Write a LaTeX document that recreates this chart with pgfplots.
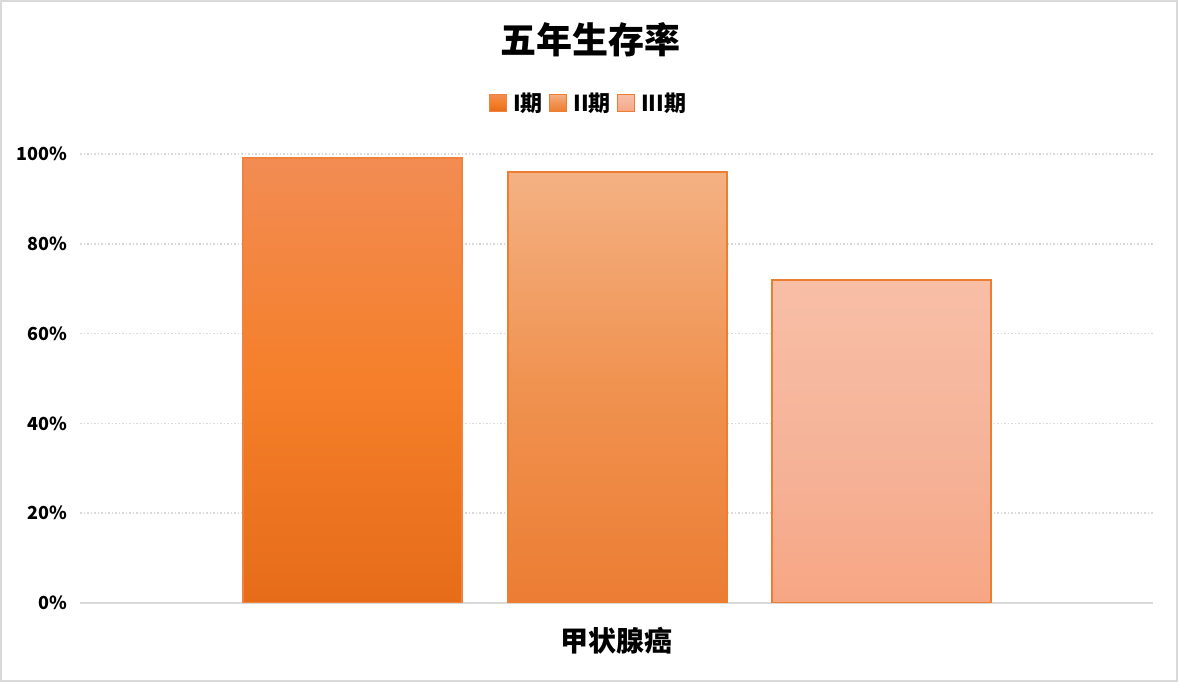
\documentclass[border=0pt]{standalone}
\usepackage{fontspec}
\setmainfont{Noto Sans CJK SC}
\usepackage{pgfplots}
\pgfplotsset{compat=1.18}

\definecolor{gridgray}{HTML}{D9D9D9}
\definecolor{edgeA}{HTML}{F08240}
\definecolor{edgeB}{HTML}{ED7D31}
\definecolor{aTop}{HTML}{F28C53}
\definecolor{aMid}{HTML}{F57F2A}
\definecolor{aBot}{HTML}{E66C19}
\definecolor{bTop}{HTML}{F4B183}
\definecolor{bMid}{HTML}{F09250}
\definecolor{bBot}{HTML}{EC7D33}
\definecolor{cTop}{HTML}{F8BFA6}
\definecolor{cMid}{HTML}{F5B49A}
\definecolor{cBot}{HTML}{F7A684}

\begin{document}
\begin{tikzpicture}
% canvas 1178 x 682, 1px = 1pt
\useasboundingbox (0,0) rectangle (1178pt,682pt);
\draw[gridgray, line width=2pt] (1pt,1pt) rectangle (1177pt,681pt);

\node[font=\fontsize{36}{40}\selectfont\bfseries] at (590pt,642pt) {五年生存率};

\begin{axis}[
    at={(80pt,79pt)}, anchor=south west,
    width=1073pt, height=449pt, scale only axis,
    xmin=0, xmax=1073, ymin=0, ymax=100,
    axis x line=bottom, axis y line=left,
    x axis line style={-, draw=gridgray, line width=2pt},
    y axis line style={draw=none},
    major tick length=0pt,
    ytick={0,20,40,60,80,100},
    yticklabel={\pgfmathprintnumber{\tick}\%},
    /pgf/number format/assume math mode=true,
    yticklabel style={font=\fontsize{18}{20}\selectfont\bfseries, anchor=east, inner sep=0pt, xshift=-13pt},
    xtick={536.5}, xticklabels={甲状腺癌},
    xticklabel style={font=\fontsize{28}{30}\selectfont\bfseries, anchor=center, inner sep=0pt, yshift=-38pt},
    ymajorgrids,
    grid style={draw=gridgray, line width=1.5pt, dash pattern=on 1.5pt off 2pt},
    legend columns=3,
    legend style={at={(0.5,1)}, anchor=center, yshift=51pt, xshift=-28pt, draw=none, fill=none,
        font=\fontsize{22}{24}\selectfont\bfseries, inner sep=0pt,
        /tikz/every odd column/.append style={column sep=4pt},
        /tikz/every even column/.append style={column sep=4pt}},
    legend image code/.code={\draw[#1, line width=1.5pt] (0pt,-8.5pt) rectangle (17pt,8.5pt);},
]
\addplot[ybar, bar width=219pt, bar shift=0pt, draw=edgeA, line width=2pt,
    top color=aTop, bottom color=aBot, middle color=aMid]
    coordinates {(272.5,99)};
\addplot[ybar, bar width=219pt, bar shift=0pt, draw=edgeB, line width=2pt,
    top color=bTop, bottom color=bBot, middle color=bMid]
    coordinates {(537,96)};
\addplot[ybar, bar width=219pt, bar shift=0pt, draw=edgeB, line width=2pt,
    top color=cTop, bottom color=cBot, middle color=cMid]
    coordinates {(801,72)};
\legend{I期, II期, III期}
\end{axis}
\end{tikzpicture}
\end{document}
